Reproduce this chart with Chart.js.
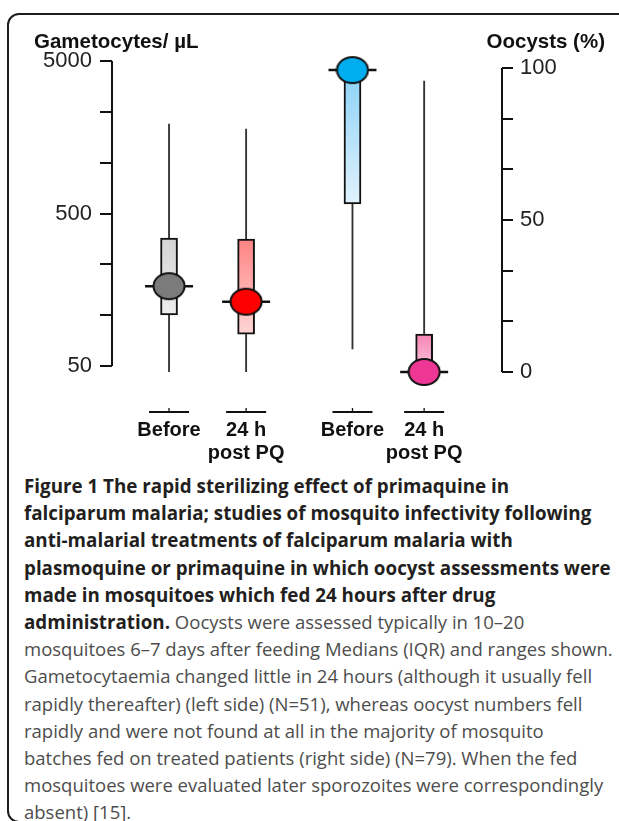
<!DOCTYPE html>
<html lang="en">
<head>
    <meta charset="UTF-8">
    <title>Figure 1</title>
    <script src="https://cdn.jsdelivr.net/npm/chart.js@4"></script>
    <style>
        body { margin: 0; background: #fff; width: 619px; height: 821px; overflow: hidden; position: relative; }
        .frame { position: absolute; left: 7px; top: 13px; width: 640px; height: 810px; box-sizing: border-box;
                 border: 2px solid #1e1e1e; border-radius: 12px 0 0 12px; }
        .grafico { position: absolute; left: 0; top: 0; }
        .legenda { position: absolute; left: 24px; top: 472px; font-family: 'Open Sans'; font-size: 18.5px;
                   color: #4d4d4d; white-space: nowrap; }
        .legenda div { height: 27.2px; line-height: 27.2px; overflow: visible; }
        .legenda b { color: #231f20; font-weight: 700; font-size: 18.8px; line-height: 27.2px; }
    </style>
</head>
<body>
    <div class="frame"></div>
    <canvas id="grafico" class="grafico" width="619" height="470"></canvas>
    <div class="legenda">
        <div><b>Figure 1 The rapid sterilizing effect of primaquine in</b></div>
        <div><b>falciparum malaria; studies of mosquito infectivity following</b></div>
        <div><b>anti-malarial treatments of falciparum malaria with</b></div>
        <div><b>plasmoquine or primaquine in which oocyst assessments were</b></div>
        <div><b>made in mosquitoes which fed 24 hours after drug</b></div>
        <div><b>administration.</b> Oocysts were assessed typically in 10–20</div>
        <div>mosquitoes 6–7 days after feeding Medians (IQR) and ranges shown.</div>
        <div>Gametocytaemia changed little in 24 hours (although it usually fell</div>
        <div>rapidly thereafter) (left side) (N=51), whereas oocyst numbers fell</div>
        <div>rapidly and were not found at all in the majority of mosquito</div>
        <div>batches fed on treated patients (right side) (N=79). When the fed</div>
        <div>mosquitoes were evaluated later sporozoites were correspondingly</div>
        <div>absent) [15].</div>
    </div>
<script>
    // groups along the bottom
    var categories = [['Before'], ['24 h', 'post PQ'], ['Before'], ['24 h', 'post PQ']]
    var groupX = [1, 2, 3.38, 4.31]

    // gametocytes / uL (left, log axis) - groups 1 and 2
    var gamMin = [41.7, 35.3]
    var gamQ1 = [108, 81]
    var gamMedian = [167, 132]
    var gamQ3 = [345, 340]
    var gamMax = [1930, 1790]

    // oocysts % (right axis) - groups 3 and 4
    var oocMin = [7.6, 0]
    var oocQ1 = [55.3, 0]
    var oocMedian = [99.3, 0]
    var oocQ3 = [100, 12.5]
    var oocMax = [100, 95.7]

    // axis ticks
    var leftTicks = [50, 107.7, 232.1, 500, 1077, 2321, 5000]
    var leftLabels = [50, 500, 5000]
    var rightTicks = [0, 16.67, 33.33, 50, 66.67, 83.33, 100]
    var rightLabels = [0, 50, 100]

    var boxColors = [['#d4d4d4', '#ededed'], ['#ff8383', '#ffd6d6'], ['#8ad1f7', '#e0f2fd'], ['#f784b5', '#fcc8de']]
    var dotColors = ['#7b7b7b', '#ff0000', '#00aeef', '#ee3694']

    function ellipse(cor) {
        var c = document.createElement('canvas')
        c.width = 34
        c.height = 30
        var g = c.getContext('2d')
        g.beginPath()
        g.ellipse(17, 15, 15.5, 13, 0, 0, Math.PI * 2)
        g.fillStyle = cor
        g.fill()
        g.lineWidth = 2
        g.strokeStyle = '#111'
        g.stroke()
        return c
    }

    function gradient(yID, lo, hi, offset) {
        return function (ctx) {
            var chart = ctx.chart
            var i = ctx.dataIndex
            var cores = boxColors[i + offset]
            if (!chart.chartArea) return cores[1]
            var s = chart.scales[yID]
            var g = chart.ctx.createLinearGradient(0, s.getPixelForValue(hi[i]), 0, s.getPixelForValue(lo[i]))
            g.addColorStop(0, cores[0])
            g.addColorStop(1, cores[1])
            return g
        }
    }

    function pts(xs, ys) {
        return ys.map(function (v, i) { return { x: xs[i], y: v } })
    }
    function ranges(xs, a, b) {
        return a.map(function (v, i) { return { x: xs[i], y: [v, b[i]] } })
    }

    var xLeft = groupX.slice(0, 2)
    var xRight = groupX.slice(2, 4)

    var extras = {
        id: 'extras',
        afterDraw: function (chart) {
            var ctx = chart.ctx
            var area = chart.chartArea
            var yL = chart.scales.yL
            var yR = chart.scales.yR
            var x = chart.scales.x
            ctx.save()
            ctx.strokeStyle = '#111'
            ctx.lineWidth = 2
            // axis lines
            ctx.beginPath()
            ctx.moveTo(area.left, yL.getPixelForValue(5000))
            ctx.lineTo(area.left, yL.getPixelForValue(50))
            ctx.moveTo(area.right, yR.getPixelForValue(100))
            ctx.lineTo(area.right, yR.getPixelForValue(0))
            ctx.stroke()
            // little base segment under each group
            groupX.forEach(function (v) {
                var px = x.getPixelForValue(v)
                var py = area.bottom + 40
                ctx.lineWidth = 2
                ctx.beginPath()
                ctx.moveTo(px - 20, py)
                ctx.lineTo(px + 20, py)
                ctx.stroke()
                ctx.lineWidth = 1.3
                ctx.beginPath()
                ctx.moveTo(px, py)
                ctx.lineTo(px, py - 4)
                ctx.stroke()
            })
            // axis titles
            ctx.fillStyle = '#111'
            ctx.font = 'bold 20.5px "Liberation Sans"'
            ctx.textBaseline = 'middle'
            ctx.textAlign = 'left'
            ctx.fillText('Gametocytes/ µL', area.left - 78, 42)
            ctx.textAlign = 'right'
            ctx.fillText('Oocysts (%)', area.right + 103, 42)
            ctx.restore()
        }
    }

    var grafico = new Chart(document.getElementById('grafico'), {
        type: 'bar',
        data: {
            datasets: [
                { type: 'bar', yAxisID: 'yL', data: ranges(xLeft, gamMin, gamMax), backgroundColor: '#333',
                  barThickness: 1.2, grouped: false, order: 6 },
                { type: 'bar', yAxisID: 'yR', data: ranges(xRight, oocMin, oocMax), backgroundColor: '#333',
                  barThickness: 1.2, grouped: false, order: 6 },
                { type: 'bar', yAxisID: 'yL', data: ranges(xLeft, gamQ1, gamQ3), backgroundColor: gradient('yL', gamQ1, gamQ3, 0),
                  borderColor: '#111', borderWidth: 2, borderSkipped: false, barThickness: 17, grouped: false, order: 5 },
                { type: 'bar', yAxisID: 'yR', data: ranges(xRight, oocQ1, oocQ3), backgroundColor: gradient('yR', oocQ1, oocQ3, 2),
                  borderColor: '#111', borderWidth: 2, borderSkipped: false, barThickness: 17, grouped: false, order: 5 },
                { type: 'line', yAxisID: 'yL', data: pts(xLeft, gamMedian), showLine: false, pointStyle: 'line',
                  pointRadius: 24, borderColor: '#111', borderWidth: 2.5, clip: false, order: 4 },
                { type: 'line', yAxisID: 'yR', data: pts(xRight, oocMedian), showLine: false, pointStyle: 'line',
                  pointRadius: 24, borderColor: '#111', borderWidth: 2.5, clip: false, order: 4 },
                { type: 'line', yAxisID: 'yL', data: pts(xLeft, gamMedian), showLine: false,
                  pointStyle: [ellipse(dotColors[0]), ellipse(dotColors[1])], clip: false, order: 1 },
                { type: 'line', yAxisID: 'yR', data: pts(xRight, oocMedian), showLine: false,
                  pointStyle: [ellipse(dotColors[2]), ellipse(dotColors[3])], clip: false, order: 1 }
            ]
        },
        options: {
            responsive: false,
            animation: false,
            layout: { padding: { top: 61, left: 0, right: 0, bottom: 0 } },
            plugins: { legend: { display: false }, tooltip: { enabled: false } },
            scales: {
                x: {
                    type: 'linear', min: 0.26, max: 5.32, offset: false,
                    grid: { display: false, drawTicks: false }, border: { display: false },
                    afterBuildTicks: function (s) { s.ticks = groupX.map(function (v) { return { value: v } }) },
                    afterFit: function (s) { s.height = 98 },
                    ticks: {
                        autoSkip: false, maxRotation: 0, padding: 47, color: '#111',
                        font: { family: 'Liberation Sans', weight: 'bold', size: 20, lineHeight: 1.15 },
                        callback: function (v, i) { return categories[i] }
                    }
                },
                yL: {
                    type: 'logarithmic', position: 'left', min: 45.7, max: 5000,
                    grid: { drawOnChartArea: false, drawTicks: true, tickLength: 12, color: '#111', lineWidth: 2 },
                    border: { display: false },
                    afterBuildTicks: function (s) { s.ticks = leftTicks.map(function (v) { return { value: v } }) },
                    afterFit: function (s) { s.width = 112 },
                    ticks: {
                        padding: 8, color: '#222', font: { family: 'Liberation Sans', size: 22 },
                        callback: function (v) { return leftLabels.indexOf(v) >= 0 ? String(v) : '' }
                    }
                },
                yR: {
                    type: 'linear', position: 'right', min: 0, max: 102.3,
                    grid: { drawOnChartArea: false, drawTicks: true, tickLength: 11, color: '#111', lineWidth: 2 },
                    border: { display: false },
                    afterBuildTicks: function (s) { s.ticks = rightTicks.map(function (v) { return { value: v } }) },
                    afterFit: function (s) { s.width = 117 },
                    ticks: {
                        padding: 7, color: '#222', font: { family: 'Liberation Sans', size: 22 },
                        callback: function (v) { return rightLabels.indexOf(v) >= 0 ? String(v) : '' }
                    }
                }
            }
        },
        plugins: [extras]
    })
</script>
</body>
</html>
